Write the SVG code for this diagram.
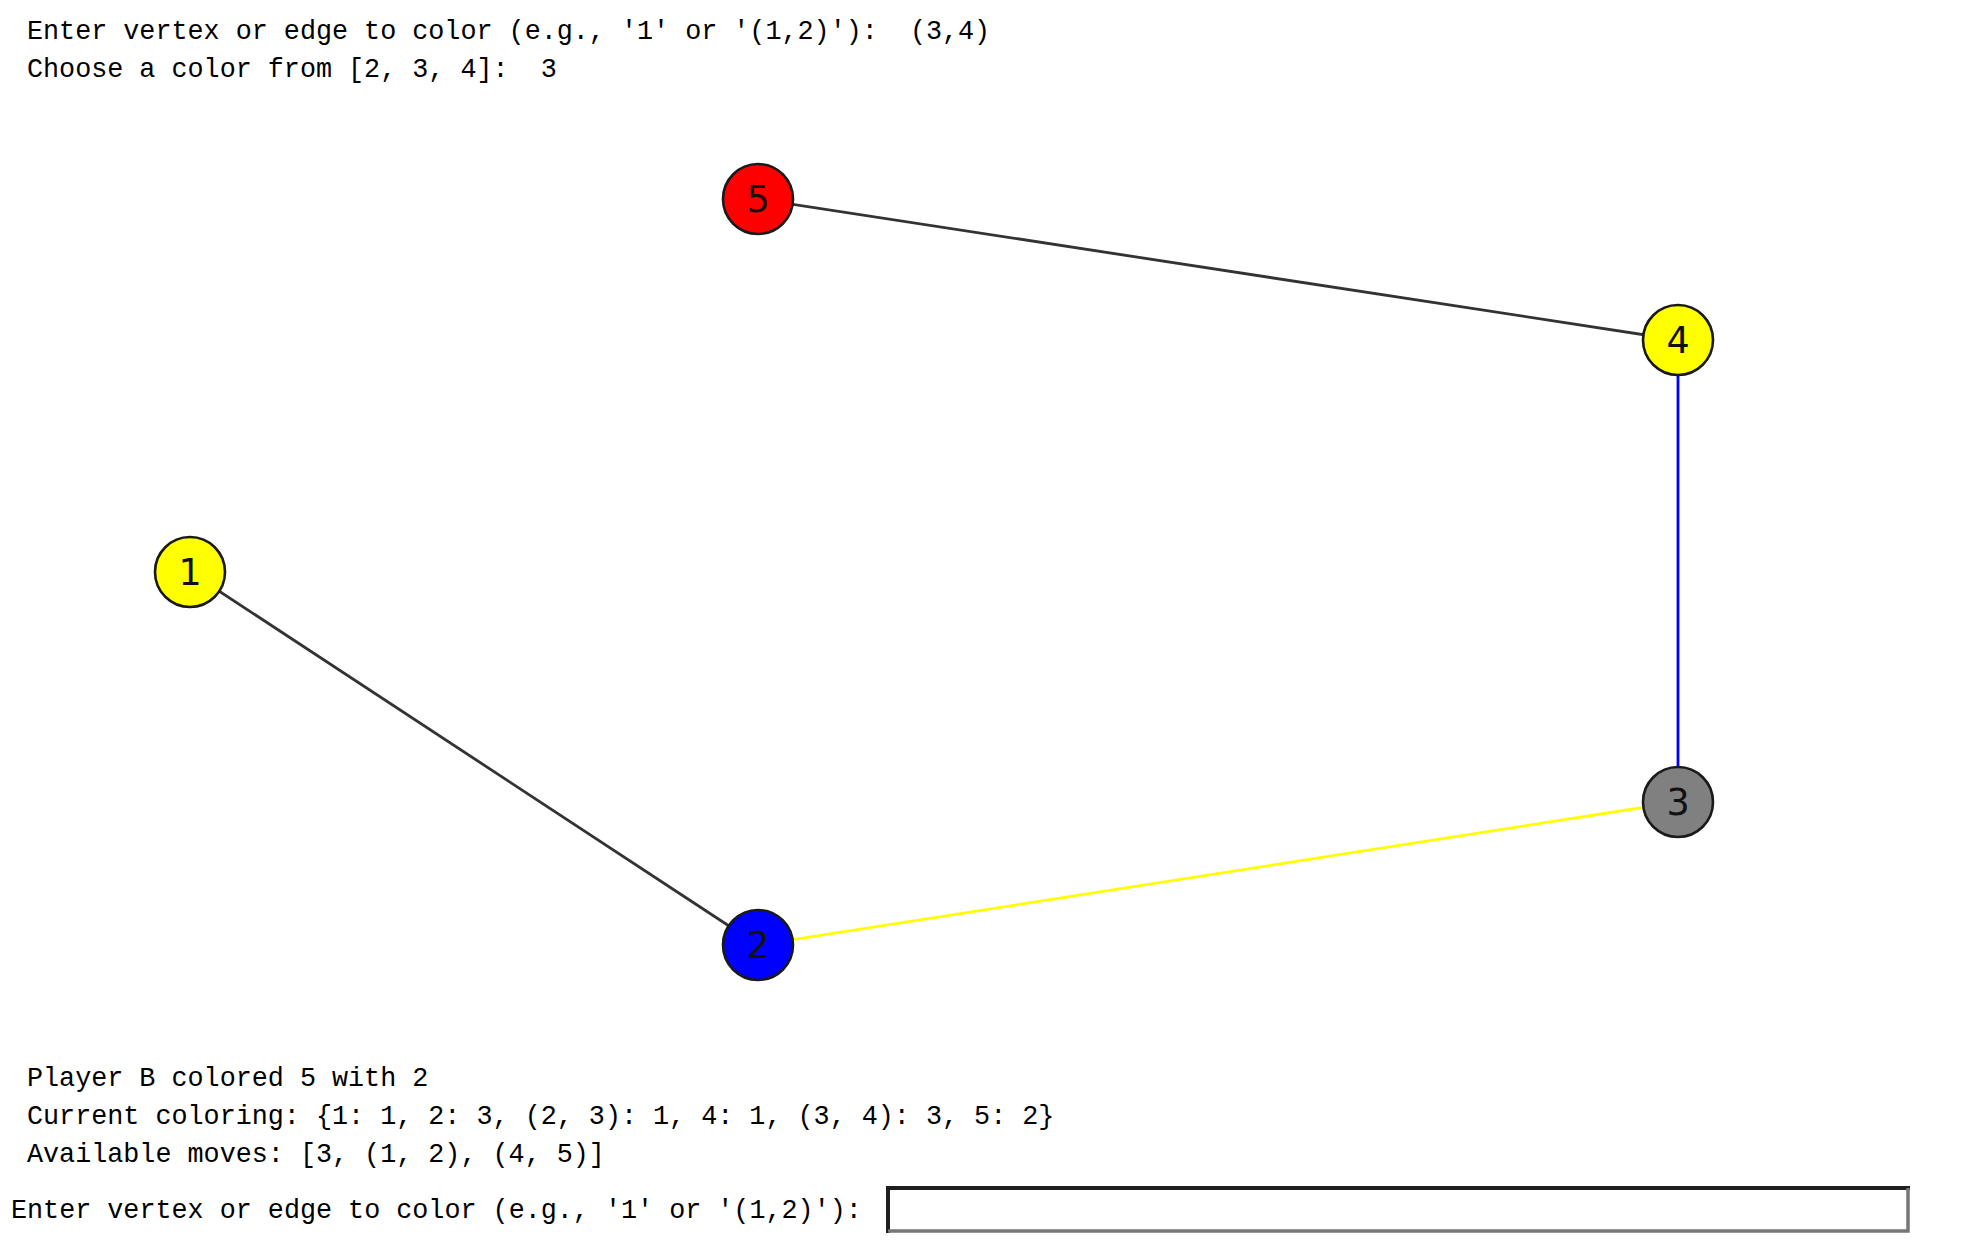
<svg xmlns="http://www.w3.org/2000/svg" width="1987" height="1255" viewBox="0 0 1987 1255">
<style>
.t{font-family:"Liberation Mono","DejaVu Sans Mono",monospace;font-size:26.75px;fill:#000;white-space:pre}
.n{stroke:#1a1a1a;stroke-width:2.6}
.lb{font-family:"DejaVu Sans",sans-serif;font-size:36.5px;fill:#111;text-anchor:middle;dominant-baseline:central}
.e{stroke-width:2.8;fill:none}
</style>
<rect width="1987" height="1255" fill="#fff"/>
<g id="header">
<text class="t" x="27" y="39" xml:space="preserve">Enter vertex or edge to color (e.g., '1' or '(1,2)'):  (3,4)</text>
<text class="t" x="27" y="77" xml:space="preserve">Choose a color from [2, 3, 4]:  3</text>
</g>
<g id="edges">
<line class="e" x1="758" y1="199" x2="1678" y2="340" stroke="#333"/>
<line class="e" x1="190" y1="572" x2="758" y2="945" stroke="#333"/>
<line class="e" x1="1678" y1="340" x2="1678" y2="802" stroke="#0000ff"/>
<line class="e" x1="758" y1="945" x2="1678" y2="802" stroke="#ffff00"/>
</g>
<g id="node5"><circle class="n" cx="758" cy="199" r="35" fill="#ff0000"/><text class="lb" x="758" y="199">5</text></g>
<g id="node4"><circle class="n" cx="1678" cy="340" r="35" fill="#ffff00"/><text class="lb" x="1678" y="340">4</text></g>
<g id="node1"><circle class="n" cx="190" cy="572" r="35" fill="#ffff00"/><text class="lb" x="190" y="572">1</text></g>
<g id="node2"><circle class="n" cx="758" cy="945" r="35" fill="#0000ff"/><text class="lb" x="758" y="945">2</text></g>
<g id="node3"><circle class="n" cx="1678" cy="802" r="35" fill="#808080"/><text class="lb" x="1678" y="802">3</text></g>
<g id="footer">
<text class="t" x="27" y="1086" xml:space="preserve">Player B colored 5 with 2</text>
<text class="t" x="27" y="1124" xml:space="preserve">Current coloring: {1: 1, 2: 3, (2, 3): 1, 4: 1, (3, 4): 3, 5: 2}</text>
<text class="t" x="27" y="1162" xml:space="preserve">Available moves: [3, (1, 2), (4, 5)]</text>
<text class="t" x="11" y="1218" xml:space="preserve">Enter vertex or edge to color (e.g., '1' or '(1,2)'):</text>
</g>
<g id="input">
<rect x="888" y="1188" width="1020" height="43" fill="#fff"/>
<path d="M888 1233 V1188 H1910" stroke="#1e1e1e" stroke-width="4" fill="none"/>
<path d="M1908 1188 V1231 H888" stroke="#777" stroke-width="3.5" fill="none"/>
</g>
</svg>
